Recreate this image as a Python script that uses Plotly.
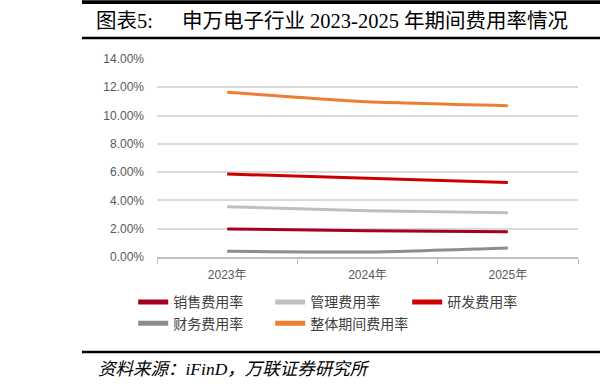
import plotly.graph_objects as go

years = ["2023年", "2024年", "2025年"]
series_names = ["销售费用率", "管理费用率", "研发费用率", "财务费用率", "整体期间费用率"]
sales = [1.98, 1.86, 1.79]
admin = [3.56, 3.27, 3.13]
rnd = [5.87, 5.56, 5.26]
finance = [0.40, 0.35, 0.64]
total = [11.65, 10.98, 10.70]
colors = ["#a50021", "#bfbfbf", "#cc0000", "#8c8c8c", "#ed7d31"]
y_ticks = [0, 2, 4, 6, 8, 10, 12, 14]
y_tick_labels = ["0.00%", "2.00%", "4.00%", "6.00%", "8.00%", "10.00%", "12.00%", "14.00%"]

# plot area in pixels (for converting page positions to paper coords)
L, R, T, B = 157, 578, 59, 257
W, H = R - L, B - T


def px(x):
    return (x - L) / W


def py(y):
    return (B - y) / H


fig = go.Figure()
for name, vals, c in zip(series_names, [sales, admin, rnd, finance, total], colors):
    fig.add_trace(go.Scatter(x=years, y=vals, name=name, mode="lines",
                             line=dict(color=c, width=3, shape="spline", smoothing=0.5)))

cjk = "Noto Sans CJK SC"
fig.update_layout(
    width=600, height=388,
    margin=dict(l=L, r=600 - R, t=T, b=388 - B, autoexpand=False),
    paper_bgcolor="white", plot_bgcolor="white",
    showlegend=True,
    legend=dict(orientation="h", xref="container", yref="container",
                x=0.222, y=0.262, xanchor="left", yanchor="top",
                entrywidth=92, entrywidthmode="pixels", bgcolor="rgba(0,0,0,0)",
                font=dict(family=cjk, size=14, color="#404040"),
                tracegroupgap=0, itemsizing="constant"),
    xaxis=dict(type="category", tickson="boundaries", ticks="outside", ticklen=5,
               tickcolor="#bfbfbf", showline=True, linecolor="#bfbfbf", linewidth=1.5,
               showgrid=False, ticklabelstandoff=6, automargin=False,
               tickfont=dict(family="Liberation Sans, " + cjk, size=12, color="#595959"),
               range=[-0.5, 2.5]),
    yaxis=dict(range=[0, 14], tickvals=y_ticks, ticktext=y_tick_labels,
               showgrid=True, gridcolor="#d9d9d9", gridwidth=1.5, zeroline=False,
               ticks="", ticklen=0, ticklabelstandoff=12, automargin=False,
               tickfont=dict(family="Liberation Sans", size=12, color="#595959")),
    shapes=[
        dict(type="line", xref="paper", yref="paper", x0=px(82), x1=px(600), y0=py(1.8), y1=py(1.8),
             line=dict(color="black", width=3), layer="above"),
        dict(type="line", xref="paper", yref="paper", x0=px(82), x1=px(600), y0=py(38), y1=py(38),
             line=dict(color="black", width=2.5)),
        dict(type="line", xref="paper", yref="paper", x0=px(82), x1=px(600), y0=py(352), y1=py(352),
             line=dict(color="black", width=2.5)),
    ],
    annotations=[
        dict(text=" ", xref="paper", yref="paper", x=px(82), y=py(2), xanchor="left", yanchor="middle",
             showarrow=False, width=518, height=3, bgcolor="black", borderpad=0, borderwidth=0,
             font=dict(size=2)),
        dict(text="图表5:", xref="paper", yref="paper",
             x=px(94), y=py(20.5), xanchor="left", yanchor="middle", showarrow=False,
             font=dict(family="Liberation Serif, " + cjk, size=20.5, color="black")),
        dict(text="申万电子行业 2023-2025 年期间费用率情况", xref="paper", yref="paper",
             x=px(180), y=py(20.5), xanchor="left", yanchor="middle", showarrow=False,
             font=dict(family="Liberation Serif, " + cjk, size=20.5, color="black")),
        dict(text="<i>资料来源：iFinD，万联证券研究所</i>", xref="paper", yref="paper",
             x=px(96), y=py(369), xanchor="left", yanchor="middle", showarrow=False,
             font=dict(family="Liberation Serif, " + cjk, size=17.5, color="black")),
    ],
)
fig.write_html("out.html")
